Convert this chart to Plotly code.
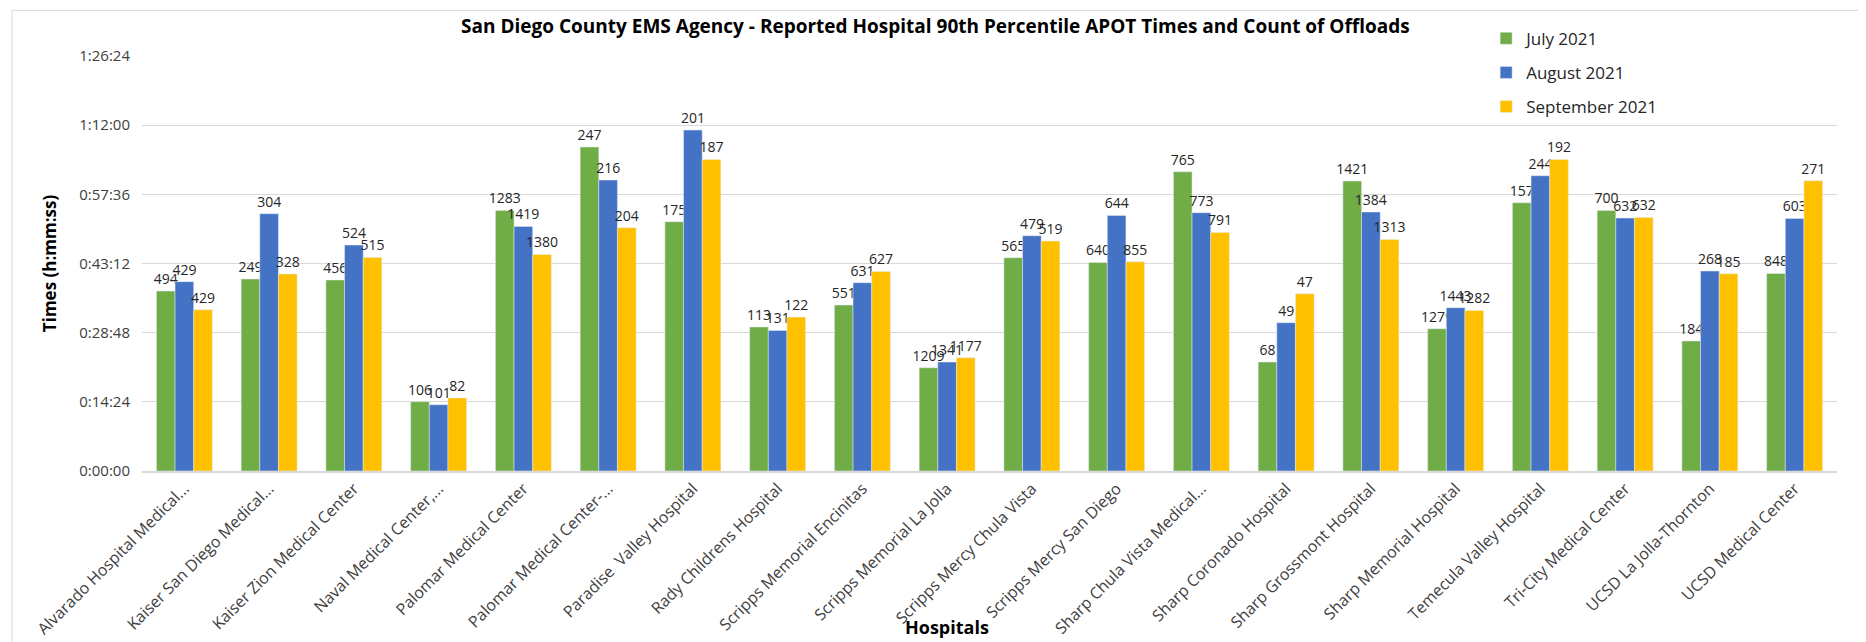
import pandas as pd
import plotly.graph_objects as go

hospitals = [
    "Alvarado Hospital Medical...", "Kaiser San Diego Medical...", "Kaiser Zion Medical Center",
    "Naval Medical Center,...", "Palomar Medical Center", "Palomar Medical Center-...",
    "Paradise  Valley Hospital", "Rady Childrens Hospital", "Scripps Memorial Encinitas",
    "Scripps Memorial La Jolla", "Scripps Mercy Chula Vista", "Scripps Mercy San Diego",
    "Sharp Chula Vista Medical...", "Sharp Coronado Hospital", "Sharp Grossmont Hospital",
    "Sharp Memorial Hospital", "Temecula Valley Hospital", "Tri-City Medical Center",
    "UCSD La Jolla-Thornton", "UCSD Medical Center",
]

# 90th percentile APOT times (h:mm:ss)
july_times = ["0:37:28", "0:39:58", "0:39:46", "0:14:26", "0:54:15", "1:07:27", "0:51:54",
              "0:29:59", "0:34:33", "0:21:30", "0:44:24", "0:43:25", "1:02:18", "0:22:41",
              "1:00:22", "0:29:37", "0:55:51", "0:54:15", "0:27:04", "0:41:08"]
august_times = ["0:39:25", "0:53:34", "0:47:03", "0:13:48", "0:50:55", "1:00:35", "1:10:59",
                "0:29:16", "0:39:12", "0:22:41", "0:48:59", "0:53:12", "0:53:46", "0:30:52",
                "0:53:55", "0:34:00", "1:01:28", "0:52:40", "0:41:38", "0:52:35"]
september_times = ["0:33:35", "0:41:01", "0:44:28", "0:15:12", "0:45:05", "0:50:39", "1:04:52",
                   "0:32:03", "0:41:33", "0:23:35", "0:47:53", "0:43:34", "0:49:40", "0:36:54",
                   "0:48:13", "0:33:26", "1:04:52", "0:52:48", "0:41:04", "1:00:26"]

# count of offloads
july_counts = [494, 249, 456, 106, 1283, 247, 175, 113, 551, 1209, 565, 640, 765, 68, 1421,
               1279, 157, 700, 184, 848]
august_counts = [429, 304, 524, 101, 1419, 216, 201, 131, 631, 1341, 479, 644, 773, 49, 1384,
                 1443, 244, 632, 268, 603]
september_counts = [429, 328, 515, 82, 1380, 204, 187, 122, 627, 1177, 519, 855, 791, 47, 1313,
                    1282, 192, 632, 185, 271]

tick_labels = ["0:00:00", "0:14:24", "0:28:48", "0:43:12", "0:57:36", "1:12:00", "1:26:24"]

series = [
    ("July 2021", july_times, july_counts, "#70AD47"),
    ("August 2021", august_times, august_counts, "#4472C4"),
    ("September 2021", september_times, september_counts, "#FFC000"),
]

FONT = "Open Sans"

fig = go.Figure()
for name, times, counts, color in series:
    secs = pd.to_timedelta(times).total_seconds()
    fig.add_trace(go.Bar(
        x=hospitals, y=secs, name=name, marker_color=color, legendgroup=name,
        text=[str(c) for c in counts], textposition="outside",
        constraintext="none", cliponaxis=False,
        textfont=dict(family=FONT, size=14, color="#262626"),
    ))

tick_secs = pd.to_timedelta(tick_labels).total_seconds()

fig.update_layout(
    width=1866, height=642,
    barmode="group", bargap=0.34, bargroupgap=0,
    plot_bgcolor="white", paper_bgcolor="white",
    margin=dict(l=134, r=37, t=48, b=179),
    font=dict(family=FONT, color="#404040"),
    title=dict(
        text="<b>San Diego County EMS Agency - Reported Hospital 90th Percentile APOT Times and Count of Offloads</b>",
        x=0.497, xref="container", xanchor="center", y=0.972, yanchor="middle",
        font=dict(family=FONT, size=19, color="#000000"),
    ),
    legend=dict(
        x=0.793, y=1.085, xanchor="left", yanchor="top",
        traceorder="grouped", tracegroupgap=9,
        font=dict(family=FONT, size=17, color="#262626"),
        bgcolor="rgba(0,0,0,0)",
    ),
    xaxis=dict(
        tickangle=-45, tickfont=dict(family=FONT, size=16, color="#404040"),
        showline=True, linecolor="#D9D9D9", linewidth=2, ticks="",
    ),
    yaxis=dict(
        range=[0, tick_secs[-1]], tickvals=list(tick_secs), ticktext=tick_labels,
        tickfont=dict(family=FONT, size=15, color="#404040"),
        ticklabelstandoff=11,
        gridcolor="#D9D9D9", gridwidth=1, zeroline=False,
        title=dict(text="<b>Times (h:mm:ss)</b>", font=dict(family=FONT, size=17, color="#000000"),
                   standoff=18),
    ),
    annotations=[dict(
        text="<b>Hospitals</b>", xref="paper", yref="paper", x=0.475, y=-0.376,
        xanchor="center", yanchor="middle", showarrow=False,
        font=dict(family=FONT, size=18, color="#000000"),
    )],
    shapes=[dict(
        type="rect", xref="paper", yref="paper",
        x0=(4 - 134) / 1695, x1=(1860 - 134) / 1695,
        y0=(463 - 638) / 414.5, y1=(463 - 3) / 414.5,
        line=dict(color="#D9D9D9", width=1), layer="below",
    )],
)

fig.write_html("out.html")
